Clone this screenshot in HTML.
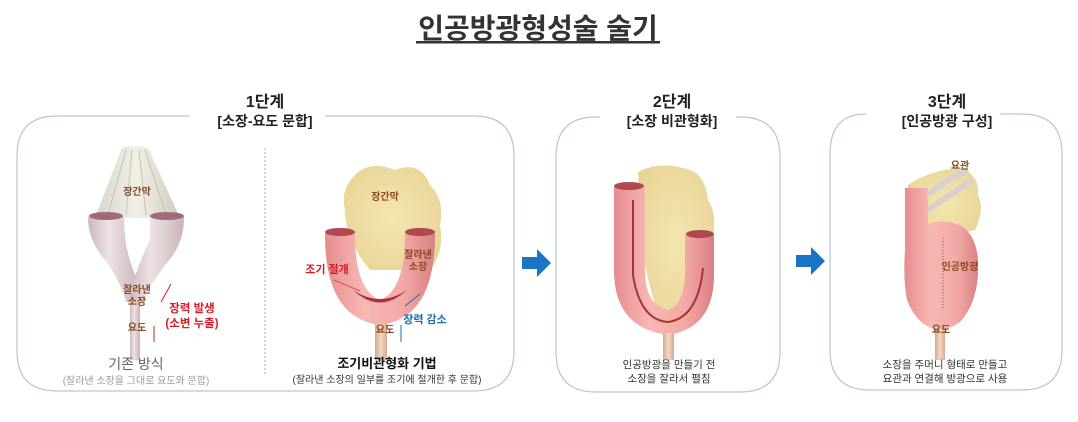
<!DOCTYPE html>
<html><head><meta charset="utf-8"><style>
html,body{margin:0;padding:0;background:#fff;}
svg{display:block;font-family:"Liberation Sans","Noto Sans CJK KR",sans-serif;}
</style></head><body>
<svg width="1078" height="422" viewBox="0 0 1078 422" xmlns="http://www.w3.org/2000/svg">
<defs>
<linearGradient id="pk" x1="0" x2="1"><stop offset="0" stop-color="#e68c8f"/><stop offset="0.35" stop-color="#f7b7b3"/><stop offset="0.7" stop-color="#f4aaa6"/><stop offset="1" stop-color="#d97f84"/></linearGradient>
<linearGradient id="gy" x1="0" x2="1"><stop offset="0" stop-color="#cbb8bc"/><stop offset="0.4" stop-color="#eee2e3"/><stop offset="1" stop-color="#c9b5b9"/></linearGradient>
<linearGradient id="ur" x1="0" x2="1"><stop offset="0" stop-color="#d9a88e"/><stop offset="0.5" stop-color="#f5d6c2"/><stop offset="1" stop-color="#d9a88e"/></linearGradient>
<radialGradient id="yl" cx="0.5" cy="0.5" r="0.6"><stop offset="0" stop-color="#f4e6b0"/><stop offset="1" stop-color="#e8d597"/></radialGradient>
<linearGradient id="fb" x1="0" x2="1"><stop offset="0" stop-color="#d8d6ca"/><stop offset="0.5" stop-color="#f1efe6"/><stop offset="1" stop-color="#cfcbbd"/></linearGradient>
</defs>

<!-- Title -->
<text x="538" y="38" text-anchor="middle" font-size="28" font-weight="bold" fill="#333">인공방광형성술 술기</text>
<rect x="416" y="41" width="244" height="2.5" fill="#333"/>

<!-- Panel frames -->
<g fill="none" stroke="#b7c9cc" stroke-width="1.2">
<path d="M190 116 H57 Q17 116 17 156 V351 Q17 391 57 391 H474 Q514 391 514 351 V156 Q514 116 474 116 H325"/>
<path d="M600 117 H596 Q556 117 556 157 V352 Q556 392 596 392 H740 Q780 392 780 352 V157 Q780 117 740 117 H736"/>
<path d="M866 114 Q830 114 830 154 V350 Q830 390 870 390 H1022 Q1062 390 1062 350 V154 Q1062 114 1022 114 H1000"/>
</g>
<line x1="265" y1="148" x2="265" y2="376" stroke="#9bb5ba" stroke-width="1" stroke-dasharray="2,2"/>

<!-- Panel titles -->
<g text-anchor="middle" font-weight="bold" fill="#222">
<text x="265" y="107" font-size="16">1단계</text>
<text x="265" y="126" font-size="14">[소장-요도 문합]</text>
<text x="672" y="107" font-size="16">2단계</text>
<text x="672" y="126" font-size="14">[소장 비관형화]</text>
<text x="947" y="107" font-size="16">3단계</text>
<text x="947" y="126" font-size="14">[인공방광 구성]</text>
</g>

<!-- Arrows -->
<path d="M522 257 H537 V249 L551 263 L537 277 V269 H522Z" fill="#1a73c4"/>
<path d="M796 255 H811 V247 L825 261 L811 275 V267 H796Z" fill="#1a73c4"/>

<!-- Left illustration -->
<path d="M122 148 Q135 144 148 148 L180 218 L95 218Z" fill="url(#fb)"/>
<g stroke="#bdb9ab" stroke-width="0.8" fill="none"><path d="M126 150 L108 215"/><path d="M132 150 L126 215"/><path d="M139 150 L146 215"/><path d="M145 150 L166 215"/></g>
<path d="M88 218 Q90 213 107 213 Q124 213 124 219 Q124 255 140 285 L140 302 L126 302 Q120 280 105 260 Q88 240 88 218Z" fill="url(#gy)"/>
<path d="M150 219 Q150 213 167 213 Q184 213 184 218 Q184 245 165 265 Q150 285 142 302 L128 302 Q135 270 150 240Z" fill="url(#gy)"/>
<ellipse cx="106" cy="216" rx="17" ry="4" fill="#a06a78"/>
<ellipse cx="167" cy="216" rx="17" ry="4" fill="#a06a78"/>
<rect x="130" y="302" width="10" height="58" fill="url(#gy)"/>
<g font-size="10" font-weight="bold" fill="#8a4a22" text-anchor="middle">
<text x="137" y="195">장간막</text>
<text x="137" y="293">잘라낸</text><text x="137" y="305">소장</text>
<text x="137" y="331">요도</text>
</g>
<line x1="161" y1="302" x2="171" y2="284" stroke="#d0202a" stroke-width="1"/>
<line x1="154" y1="326" x2="154" y2="342" stroke="#d0202a" stroke-width="1"/>
<g font-size="11.5" font-weight="bold" fill="#d0202a" text-anchor="middle">
<text x="192" y="312">장력 발생</text><text x="192" y="327">(소변 누출)</text>
</g>
<text x="136" y="369" text-anchor="middle" font-size="14" fill="#666">기존 방식</text>
<text x="136" y="384" text-anchor="middle" font-size="10" fill="#999">(잘라낸 소장을 그대로 요도와 문합)</text>

<!-- Middle illustration -->
<path d="M355 175 Q370 160 395 170 Q420 160 430 185 Q445 200 440 225 Q445 250 430 270 L370 270 Q345 240 345 210 Q340 190 355 175Z" fill="url(#yl)"/>
<path d="M325 235 Q325 228 340 228 Q355 228 355 235 Q355 290 380 300 Q405 290 405 235 Q405 228 420 228 Q435 228 435 235 Q435 318 380 325 Q325 318 325 235Z" fill="url(#pk)"/>
<ellipse cx="340" cy="232" rx="15" ry="4" fill="#b0484f"/>
<ellipse cx="420" cy="232" rx="15" ry="4" fill="#b0484f"/>
<path d="M353 290 Q380 315 407 290 Q380 308 353 290Z" fill="#a8323c"/>
<rect x="375" y="323" width="12" height="37" fill="url(#ur)"/>
<g font-size="10" font-weight="bold" fill="#8a4a22" text-anchor="middle">
<text x="385" y="200">장간막</text>
<text x="418" y="258">잘라낸</text><text x="418" y="270">소장</text>
<text x="385" y="333">요도</text>
</g>
<text x="327" y="273" text-anchor="middle" font-size="11" font-weight="bold" fill="#d0202a">조기 절개</text>
<line x1="334" y1="280" x2="360" y2="291" stroke="#c04050" stroke-width="0.8"/>
<line x1="420" y1="294" x2="405" y2="306" stroke="#1a6fb0" stroke-width="1"/>
<line x1="401" y1="342" x2="401" y2="325" stroke="#1a6fb0" stroke-width="1"/>
<text x="425" y="323" text-anchor="middle" font-size="11" font-weight="bold" fill="#1a6fb0">장력 감소</text>
<text x="387" y="368" text-anchor="middle" font-size="13" font-weight="bold" fill="#111">조기비관형화 기법</text>
<text x="387" y="383" text-anchor="middle" font-size="10" fill="#333">(잘라낸 소장의 일부를 조기에 절개한 후 문합)</text>

<!-- Panel 2 illustration -->
<path d="M638 172 Q660 160 690 170 Q705 175 708 200 Q718 215 712 240 L700 320 L660 320 Q640 260 640 220Z" fill="url(#yl)"/>
<path d="M614 188 Q614 183 629 183 Q645 183 645 188 L645 270 Q645 305 668 310 Q685 305 685 270 L685 235 Q685 231 700 231 Q714 231 714 235 L714 275 Q714 328 668 335 Q614 328 614 270Z" fill="url(#pk)"/>
<ellipse cx="629" cy="186" rx="15" ry="4" fill="#b0484f"/>
<ellipse cx="700" cy="234" rx="14" ry="4" fill="#b0484f"/>
<path d="M633 200 L633 275 Q640 320 668 322 Q698 318 703 268" fill="none" stroke="#a8323c" stroke-width="2"/>
<rect x="663" y="333" width="11" height="27" fill="url(#ur)"/>
<text x="669" y="368" text-anchor="middle" font-size="10.5" fill="#333">인공방광을 만들기 전</text>
<text x="669" y="382" text-anchor="middle" font-size="10.5" fill="#333">소장을 잘라서 펼침</text>

<!-- Panel 3 illustration -->
<path d="M908 185 Q930 170 960 168 Q980 175 978 195 Q985 210 975 230 L930 240 Q905 220 908 185Z" fill="url(#yl)"/>
<path d="M905 188 L928 188 L928 225 Q935 220 948 222 Q975 225 978 260 Q980 300 960 322 Q948 330 940 330 Q918 328 907 300 Q903 280 905 250Z" fill="url(#pk)"/>
<path d="M928 195 Q945 180 968 170" fill="none" stroke="#d9cfcf" stroke-width="6"/>
<path d="M928 210 Q950 195 972 180" fill="none" stroke="#d9cfcf" stroke-width="6"/>
<line x1="943" y1="238" x2="943" y2="310" stroke="#8a4a5a" stroke-width="1" stroke-dasharray="1,2"/>
<rect x="935" y="328" width="10" height="32" fill="url(#ur)"/>
<g font-size="10" font-weight="bold" fill="#8a4a22" text-anchor="middle">
<text x="960" y="169">요관</text>
<text x="960" y="270">인공방광</text>
<text x="941" y="333">요도</text>
</g>
<text x="945" y="368" text-anchor="middle" font-size="10.5" fill="#333">소장을 주머니 형태로 만들고</text>
<text x="945" y="382" text-anchor="middle" font-size="10.5" fill="#333">요관과 연결해 방광으로 사용</text>
</svg>
</body></html>
